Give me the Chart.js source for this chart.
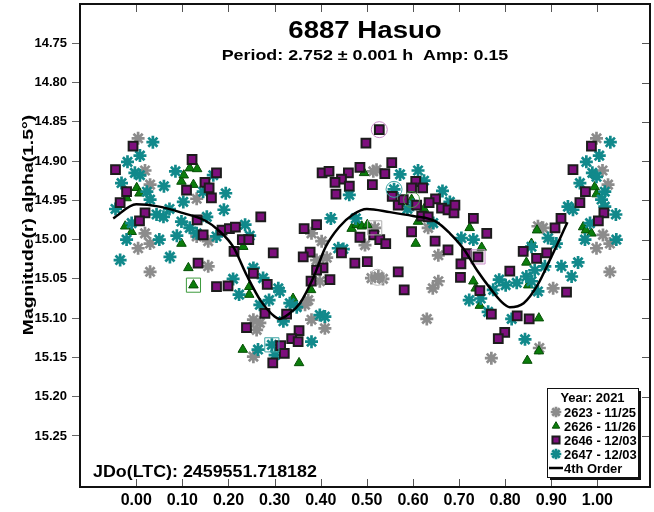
<!DOCTYPE html>
<html><head><meta charset="utf-8">
<script src="https://cdn.jsdelivr.net/npm/chart.js@4.4.0/dist/chart.umd.min.js"></script>
<style>html,body{margin:0;padding:0;background:#fff}#wrap{width:654px;height:512px;position:relative}</style>
</head><body><div id="wrap"><canvas id="c" width="654" height="512"></canvas></div>
<script>
const titleText = "6887 Hasuo";
const subtitleText = "Period: 2.752 \u00b1 0.001 h  Amp: 0.15";
const jdText = "JDo(LTC): 2459551.718182";
const yAxisTitle = "Magnitude(r) alpha(1.5\u00b0)";
const legendTitle = "Year: 2021";
const seriesLabels = ["2623 - 11/25", "2626 - 11/26", "2646 - 12/03", "2647 - 12/03"];
const fitLabel = "4th Order";
const xTickValues = [0.00, 0.10, 0.20, 0.30, 0.40, 0.50, 0.60, 0.70, 0.80, 0.90, 1.00];
const yTickValues = [14.75, 14.80, 14.85, 14.90, 14.95, 15.00, 15.05, 15.10, 15.15, 15.20, 15.25];

// [phase, magnitude]
const s2623 = [[0.004,14.871],[0.019,14.912],[0.030,14.930],[0.131,14.948],[0.019,14.992],[0.030,15.005],[0.004,15.011],[0.131,14.996],[0.156,15.002],
[0.030,15.041],[0.156,15.034],[0.254,15.102],[0.268,15.106],[0.261,15.115],[0.254,15.149],
[0.391,15.026],[0.398,15.053],[0.510,15.049],[0.525,15.047],[0.535,15.050],[0.655,15.053],[0.643,15.062],[0.630,15.101],[0.373,15.077],[0.366,15.083],[0.380,15.102],[0.409,15.113],
[0.514,14.913],[0.521,14.911],[0.517,14.985],[0.496,15.007],[0.380,14.992],[0.402,15.002],[0.413,15.023],
[0.998,14.871],[1.011,14.912],[1.023,14.930],[1.012,14.994],[1.027,15.005],[0.998,15.011],[0.871,14.983],[0.882,14.985],[0.633,14.985],[0.655,15.020],
[0.904,15.062],[1.027,15.041],[0.874,15.138],[0.770,15.151]];

const s2626 = [[0.116,14.909],[0.132,14.910],[0.098,14.926],[0.103,14.918],[0.124,14.930],[0.001,14.934],[0.007,14.941],[-0.021,14.947],[-0.024,14.983],[-0.010,14.990],[0.098,15.005],[0.232,15.009],
[0.113,15.036],[0.124,15.058],[0.245,15.060],[0.245,15.070],[0.231,15.140],
[0.379,15.064],[0.340,15.075],[0.353,15.157],
[0.494,14.915],[0.597,14.949],[0.611,14.977],[0.606,15.005],[0.467,14.986],[0.478,14.981],[0.489,14.983],[0.501,14.981],
[0.994,14.933],[0.998,14.942],[0.969,14.984],[0.975,14.988],[0.987,14.992],[0.869,14.988],[0.857,15.005],[0.624,14.961],[0.723,14.985],[0.749,15.010],
[0.846,15.029],[0.731,15.053],[0.736,15.062],[0.850,15.058],[0.745,15.084],[0.873,15.100],[0.873,15.142],[0.848,15.154]];

const s2646 = [[-0.007,14.881],[-0.045,14.911],[0.121,14.898],[0.174,14.915],[0.149,14.927],[0.158,14.934],[0.163,14.947],[0.109,14.937],[-0.021,14.939],[-0.035,14.953],[0.019,14.966],[0.007,14.976],[0.132,14.975],[0.145,14.994],[0.186,14.988],[0.202,14.986],[0.215,14.984],[0.230,15.000],[0.244,15.000],[0.212,15.015],[0.270,14.971],[0.297,15.017],
[0.134,15.030],[0.174,15.060],[0.199,15.059],[0.254,15.043],[0.284,15.057],[0.279,15.094],[0.239,15.112],[0.296,15.157],
[0.474,15.030],[0.501,15.028],[0.405,15.036],[0.391,15.039],[0.379,15.053],[0.420,15.051],[0.568,15.041],[0.581,15.064],[0.326,15.095],[0.353,15.116],[0.337,15.126],[0.351,15.130],[0.313,15.135],[0.321,15.145],[0.445,15.017],
[0.527,14.860],[0.498,14.877],[0.554,14.902],[0.485,14.908],[0.539,14.916],[0.403,14.915],[0.418,14.913],[0.460,14.915],[0.445,14.923],[0.431,14.927],[0.462,14.932],[0.512,14.930],[0.433,14.942],[0.606,14.926],[0.597,14.934],[0.621,14.934],[0.555,14.945],[0.568,14.956],[0.579,14.949],[0.608,14.956],[0.597,14.990],[0.515,14.994],[0.528,15.000],[0.541,15.005],[0.485,14.997],[0.364,14.986],[0.391,14.981],[0.377,15.016],[0.362,15.022],
[0.987,14.881],[0.947,14.911],[0.974,14.939],[0.962,14.953],[1.014,14.966],[1.002,14.976],[0.921,14.973],[0.908,14.985],[0.890,15.017],[0.839,15.015],[0.868,15.024],[0.649,14.948],[0.635,14.953],[0.662,14.960],[0.676,14.962],[0.689,14.966],[0.691,14.956],[0.619,14.970],[0.633,14.971],[0.731,14.973],[0.760,14.992],[0.648,15.002],[0.676,15.013],[0.716,15.018],[0.741,15.022],
[0.704,15.031],[0.703,15.048],[0.810,15.040],[0.745,15.065],[0.933,15.067],[0.770,15.095],[0.826,15.097],[0.852,15.101],[0.799,15.118],[0.785,15.126]];

const s2647 = [[0.036,14.876],[0.008,14.893],[-0.019,14.901],[-0.003,14.915],[0.008,14.918],[-0.032,14.928],[0.023,14.939],[0.060,14.932],[0.030,14.949],[-0.045,14.961],[-0.010,14.979],[0.044,14.968],[0.059,14.971],[0.072,14.961],[0.085,14.913],[0.102,14.952],[0.145,14.939],[0.167,14.918],[0.194,14.941],[0.190,14.962],[0.098,14.977],[0.153,14.971],[0.116,14.985],[0.131,14.992],[0.088,14.995],[0.050,15.000],[-0.021,15.000],[0.174,14.996],[0.236,14.981],[0.246,14.995],[0.073,15.022],[-0.035,15.026],
[0.210,15.050],[0.223,15.070],[0.254,15.036],[0.275,15.049],[0.288,15.077],[0.268,15.083],[0.308,15.062],[0.264,15.140],[0.294,15.134],[0.301,15.147],[0.311,15.066],
[0.333,15.081],[0.348,15.086],[0.398,15.096],[0.409,15.098],[0.319,15.104],[0.380,15.130],
[0.462,14.943],[0.572,14.917],[0.559,14.936],[0.611,14.912],[0.624,14.925],[0.588,14.961],[0.600,14.956],[0.422,14.973],[0.476,14.973],[0.438,15.011],[0.449,15.012],
[1.028,14.876],[1.004,14.893],[0.976,14.901],[0.989,14.915],[0.998,14.920],[0.962,14.928],[1.016,14.939],[1.009,14.949],[1.016,14.958],[1.040,14.968],[0.984,14.979],[0.973,15.000],[1.041,15.000],[0.936,14.958],[0.947,14.962],[0.911,15.005],[0.893,14.998],[0.857,15.009],[0.664,14.938],[0.680,14.952],[0.705,14.998],[0.731,15.000],[0.644,14.979],
[0.787,15.051],[0.801,15.058],[0.825,15.055],[0.846,15.047],[0.857,15.053],[0.864,15.039],[0.886,15.034],[0.922,15.034],[0.944,15.047],[0.958,15.029],[0.871,15.066],[0.774,15.064],[0.722,15.077],[0.747,15.075],[0.763,15.092],[0.814,15.101],[0.843,15.127]];

const fitPhase = [-0.05,0.0,0.05,0.1,0.15,0.18,0.21,0.24,0.27,0.3,0.31,0.33,0.355,0.385,0.41,0.44,0.47,0.5,0.55,0.6,0.65,0.68,0.71,0.74,0.77,0.79,0.81,0.84,0.87,0.9,0.935];
const fitMag = [14.973,14.955,14.958,14.966,14.976,14.989,15.009,15.046,15.078,15.098,15.101,15.095,15.081,15.047,15.010,14.984,14.968,14.961,14.965,14.970,14.977,14.992,15.012,15.040,15.064,15.078,15.086,15.081,15.058,15.022,14.978];

const highlightCircles = [[0.527,14.860],[0.559,14.936],[0.597,14.949],[0.523,15.048]];
const highlightBoxes = [[0.517,14.985],[0.124,15.058],[0.294,15.134],[0.741,15.022]];

const toXY = arr => arr.map(p => ({x: p[0], y: p[1]}));

const C_GRAY = '#8c8c8c', C_TEAL = '#11898b', C_GREEN = '#0b7d0b', C_PURPLE = '#7d0f7d';
const styleGray = {pointStyle:'star', radius:6.5, borderWidth:2.7, borderColor:C_GRAY, backgroundColor:C_GRAY};
const styleGreen = {pointStyle:'triangle', radius:5.5, borderWidth:1, borderColor:'#064f06', backgroundColor:C_GREEN};
const stylePurple = {pointStyle:'rect', radius:6.2, borderWidth:2, borderColor:'#1c1c1c', backgroundColor:C_PURPLE};
const styleTeal = {pointStyle:'star', radius:6.5, borderWidth:2.7, borderColor:C_TEAL, backgroundColor:C_TEAL};

function ds(label, data, st) {
  return {label, data: toXY(data), pointStyle: st.pointStyle, pointRadius: st.radius, pointBorderWidth: st.borderWidth,
    pointBorderColor: st.borderColor, pointBackgroundColor: st.backgroundColor, showLine:false, pointHoverRadius: st.radius};
}

function stretchText(ctx, text, x, y, font, sx, align) {
  ctx.save(); ctx.font = font; ctx.translate(x, y); ctx.scale(sx, 1);
  ctx.textAlign = align; ctx.textBaseline = 'alphabetic'; ctx.fillStyle = '#000';
  ctx.fillText(text, 0, 0); ctx.restore();
}

function drawMarker(ctx, st, x, y) {
  ctx.save();
  ctx.fillStyle = st.backgroundColor; ctx.strokeStyle = st.borderColor; ctx.lineWidth = st.borderWidth;
  Chart.helpers.drawPoint(ctx, {pointStyle: st.pointStyle, radius: st.radius, rotation: 0, borderWidth: st.borderWidth}, x, y);
  ctx.restore();
}

const decorPlugin = {
  id: 'decor',
  afterDraw(chart) {
    const ctx = chart.ctx, a = chart.chartArea, xs = chart.scales.x, ys = chart.scales.y;
    ctx.save(); ctx.strokeStyle = '#555'; ctx.lineWidth = 1;
    ctx.beginPath();
    xTickValues.forEach(v => { const px = Math.round(xs.getPixelForValue(v)) + 0.5;
      ctx.moveTo(px, a.top); ctx.lineTo(px, a.top + 8);
      ctx.moveTo(px, a.bottom); ctx.lineTo(px, a.bottom - 8); });
    yTickValues.forEach(v => { const py = Math.round(ys.getPixelForValue(v)) + 0.5;
      ctx.moveTo(a.right, py); ctx.lineTo(a.right - 8, py); });
    ctx.stroke();
    ctx.strokeStyle = '#111'; ctx.lineWidth = 2;
    ctx.strokeRect(a.left, a.top, a.right - a.left, a.bottom - a.top);
    ctx.restore();

    const cx = (a.left + a.right) / 2;
    stretchText(ctx, titleText, cx, 38, 'bold 23px "Liberation Sans", Arial, sans-serif', 1.2, 'center');
    stretchText(ctx, subtitleText, cx, 60, 'bold 15px "Liberation Sans", Arial, sans-serif', 1.19, 'center');
    stretchText(ctx, jdText, a.left + 13, 477, 'bold 17px "Liberation Sans", Arial, sans-serif', 1.05, 'left');

    ctx.save(); ctx.translate(29, 225); ctx.rotate(-Math.PI / 2); ctx.scale(1.38, 1);
    ctx.font = 'bold 14px "Liberation Sans", Arial, sans-serif'; ctx.fillStyle = '#000';
    ctx.textAlign = 'center'; ctx.textBaseline = 'middle'; ctx.fillText(yAxisTitle, 0, 0); ctx.restore();

    const lx = 547, ly = 388, lw = 91, lh = 89;
    ctx.save();
    ctx.fillStyle = '#111'; ctx.fillRect(lx + 3, ly + 3, lw, lh);
    ctx.fillStyle = '#fff'; ctx.fillRect(lx, ly, lw, lh);
    ctx.strokeStyle = '#111'; ctx.lineWidth = 1; ctx.strokeRect(lx + 0.5, ly + 0.5, lw, lh);
    ctx.restore();
    const lf = 'bold 12px "Liberation Sans", Arial, sans-serif';
    stretchText(ctx, legendTitle, lx + lw / 2, ly + 14, lf, 1.08, 'center');
    const styles = [styleGray, styleGreen, stylePurple, styleTeal];
    seriesLabels.forEach((lab, i) => {
      const yy = ly + 24 + i * 14;
      const st = Object.assign({}, styles[i], {radius: styles[i].radius - 1.2});
      drawMarker(ctx, st, lx + 9, yy);
      stretchText(ctx, lab, lx + 17, yy + 4.5, lf, 1.08, 'left');
    });
    const fy = ly + 24 + 4 * 14;
    ctx.save(); ctx.strokeStyle = '#000'; ctx.lineWidth = 2.5;
    ctx.beginPath(); ctx.moveTo(lx + 2, fy); ctx.lineTo(lx + 16, fy); ctx.stroke(); ctx.restore();
    stretchText(ctx, fitLabel, lx + 17, fy + 4.5, lf, 1.08, 'left');
  }
};

new Chart(document.getElementById('c'), {
  type: 'scatter',
  data: {
    datasets: [
      {label: fitLabel, data: fitPhase.map((p, i) => ({x: p, y: fitMag[i]})), showLine: true, pointRadius: 0,
        borderColor: '#000', borderWidth: 2.5, cubicInterpolationMode: 'monotone', fill: false},
      {label: 'hlc', data: toXY(highlightCircles), pointStyle: 'circle', pointRadius: 8, pointBorderWidth: 1,
        pointBackgroundColor: 'rgba(0,0,0,0)', pointBorderColor: ['#c98ac9', '#3aa3a3', '#4a9a4a', '#b5b5b5'], showLine: false},
      {label: 'hlb', data: toXY(highlightBoxes), pointStyle: 'rect', pointRadius: 10, pointBorderWidth: 1,
        pointBackgroundColor: 'rgba(0,0,0,0)', pointBorderColor: ['#b0b0b0', '#3c9a3c', '#3aa3a3', '#c98ac9'], showLine: false},
      ds(seriesLabels[2], s2646, stylePurple),
      ds(seriesLabels[3], s2647, styleTeal),
      ds(seriesLabels[1], s2626, styleGreen),
      ds(seriesLabels[0], s2623, styleGray)
    ]
  },
  options: {
    responsive: false, animation: false, devicePixelRatio: 1,
    layout: {autoPadding: false, padding: {left: 0, right: 4, top: 4, bottom: 0}},
    plugins: {legend: {display: false}, tooltip: {enabled: false}},
    scales: {
      x: {type: 'linear', min: -0.122, max: 1.114,
        afterBuildTicks: s => { s.ticks = xTickValues.map(v => ({value: v})); },
        afterFit: s => { s.height = 25; s.paddingLeft = 0; s.paddingRight = 0; },
        ticks: {callback: v => Number(v).toFixed(2), autoSkip: false, maxRotation: 0, color: '#000', padding: 4,
          font: {family: '"Liberation Sans", Arial, sans-serif', weight: 'bold', size: 16}},
        grid: {display: true, drawOnChartArea: false, drawTicks: false}, border: {display: false}},
      y: {type: 'linear', min: 14.70, max: 15.315, reverse: true,
        afterBuildTicks: s => { s.ticks = yTickValues.map(v => ({value: v})); },
        afterFit: s => { s.width = 80; s.paddingTop = 0; s.paddingBottom = 0; },
        ticks: {callback: v => Number(v).toFixed(2), autoSkip: false, color: '#000', padding: 5,
          font: {family: '"Liberation Sans", Arial, sans-serif', weight: 'bold', size: 13}},
        grid: {display: true, drawOnChartArea: false, drawTicks: true, tickLength: 8, tickColor: '#666'},
        border: {display: false}}
    }
  },
  plugins: [decorPlugin]
});
</script></body></html>
